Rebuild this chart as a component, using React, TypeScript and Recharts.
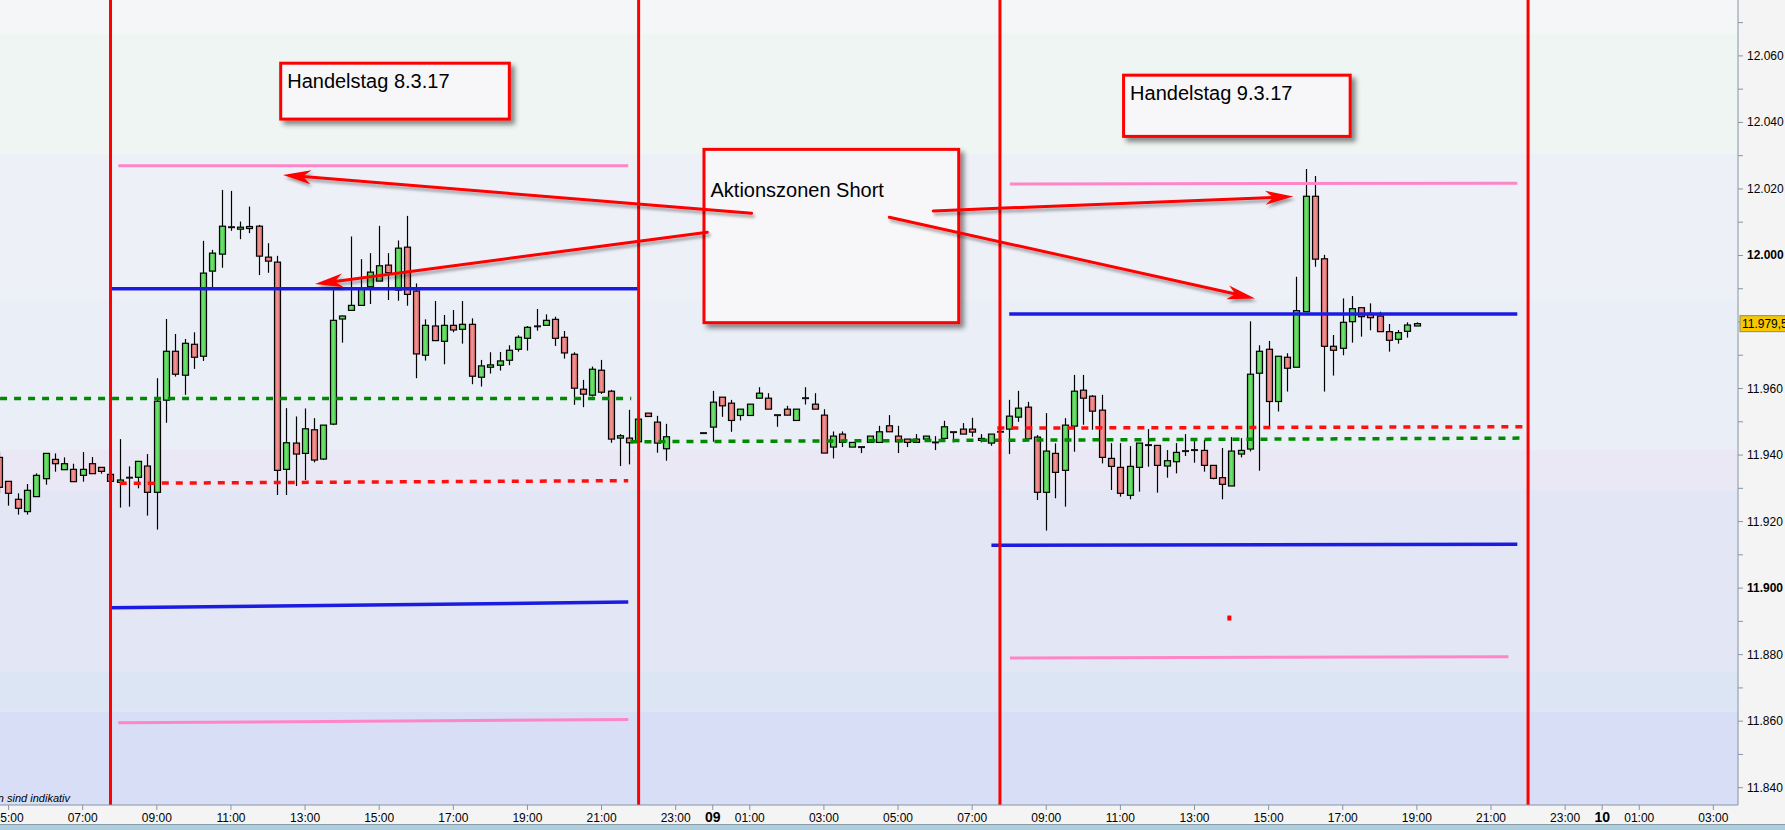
import React from "react";
import {
  ComposedChart,
  Bar,
  XAxis,
  YAxis,
  ReferenceLine,
  ReferenceArea,
  ReferenceDot,
} from "recharts";

// 15-minute DAX candles, time in hours counted from 08.03. 00:00
const SESSIONS = [
  { from: 4.75, to: 22.75 },
  { from: 23.75, to: 43 },
];

const OPEN = [
  11939.3, 11932.1, 11926.7, 11923.0, 11927.5, 11932.9, 11938.7, 11935.6, 11935.7, 11933.9,
  11937.4, 11936.3, 11934.2, 11931.8, 11933.2, 11933.3, 11936.7, 11928.8, 11956.5, 11971.2,
  11964.0, 11973.3, 11969.7, 11995.3, 12000.4, 12008.5, 12007.9, 12008.5, 12008.8, 11999.5,
  11998.0, 11935.7, 11943.6, 11940.5, 11947.6, 11938.8, 11949.3, 11980.9, 11983.5, 11985.0,
  11990.6, 11992.3, 11997.1, 11989.6, 12002.5, 11989.3, 11970.0, 11978.8, 11974.2, 11979.0,
  11977.8, 11979.3, 11963.4, 11966.4, 11967.0, 11968.5, 11971.8, 11975.1, 11978.7, 11979.0,
  11980.8, 11975.4, 11970.3, 11959.8, 11958.0, 11965.5, 11959.2, 11945.1, 11945.1, 11944.0,
  11952.6, 11949.9, 11941.9,
  11946.6, 11948.4, 11957.4, 11955.6, 11951.9, 11951.9, 11957.1, 11957.1, 11952.0, 11953.8,
  11950.4, 11957.1, 11955.3, 11952.0, 11942.4, 11946.3, 11942.4, 11942.4, 11943.8, 11943.8,
  11948.8, 11945.7, 11944.8, 11944.8, 11944.8, 11943.8, 11945.0, 11946.9, 11947.8, 11947.8,
  11945.0, 11943.6, 11947.0, 11947.8, 11951.4, 11954.4, 11945.4, 11928.8, 11940.5, 11935.4,
  11948.7, 11959.5, 11957.7, 11953.5, 11939.0, 11936.3, 11927.9, 11936.3, 11943.0, 11942.9,
  11936.7, 11938.0, 11941.2, 11941.5, 11941.4, 11936.9, 11933.2, 11930.7, 11940.3, 11941.8,
  11964.6, 11971.8, 11956.1, 11969.4, 11966.4, 11983.1, 12017.8, 11999.0, 11972.7, 11972.1,
  11980.1, 11984.3, 11982.6, 11981.8, 11977.1, 11974.8, 11977.2, 11978.8,
];

const HIGH = [
  11941.0, 11932.1, 11928.5, 11931.3, 11934.5, 11940.5, 11940.5, 11939.3, 11937.4, 11940.9,
  11939.4, 11936.3, 11934.2, 11944.8, 11936.6, 11938.1, 11940.3, 11963.1, 11980.9, 11976.4,
  11974.9, 11976.9, 12004.4, 12001.7, 12019.7, 12019.4, 12010.2, 12014.7, 12009.2, 12003.7,
  11999.9, 11954.1, 11951.6, 11954.0, 11951.1, 11949.0, 11989.6, 11982.0, 12005.7, 11998.9,
  12000.7, 12008.9, 12000.7, 12004.5, 12011.9, 11991.6, 11980.8, 11986.3, 11982.1, 11983.6,
  11986.3, 11981.1, 11968.6, 11970.9, 11971.0, 11973.0, 11976.0, 11978.8, 11983.9, 11982.3,
  11981.6, 11977.3, 11970.9, 11962.6, 11966.6, 11968.6, 11959.6, 11946.3, 11953.6, 11951.5,
  11952.6, 11951.8, 11949.4,
  11946.8, 11959.3, 11957.4, 11956.6, 11953.8, 11955.3, 11960.4, 11958.6, 11952.0, 11954.8,
  11953.8, 11960.4, 11958.6, 11953.8, 11947.1, 11947.1, 11943.8, 11942.4, 11945.7, 11948.8,
  11952.0, 11948.8, 11944.8, 11946.3, 11945.7, 11945.7, 11950.3, 11946.9, 11949.6, 11951.2,
  11946.3, 11946.3, 11947.2, 11956.6, 11959.3, 11956.0, 11946.0, 11952.6, 11943.5, 11951.1,
  11964.1, 11964.1, 11958.0, 11958.1, 11943.6, 11943.6, 11942.7, 11943.6, 11947.8, 11942.9,
  11941.5, 11943.6, 11946.3, 11944.6, 11944.6, 11936.9, 11942.1, 11945.4, 11945.1, 11980.2,
  11973.0, 11974.3, 11969.7, 11970.6, 11993.6, 12026.0, 12023.9, 12000.2, 11976.1, 11987.1,
  11987.8, 11984.3, 11985.6, 11983.1, 11979.4, 11977.6, 11979.9, 11979.9,
];

const LOW = [
  11928.5, 11924.8, 11922.1, 11922.1, 11927.5, 11931.1, 11935.0, 11935.6, 11932.0, 11932.0,
  11934.4, 11934.4, 11932.1, 11924.2, 11924.5, 11930.0, 11921.8, 11917.6, 11949.7, 11963.6,
  11958.1, 11965.9, 11968.3, 11990.2, 11996.3, 12007.4, 12004.9, 12006.7, 11994.1, 11994.8,
  11928.0, 11928.0, 11930.7, 11932.5, 11937.8, 11938.5, 11949.0, 11973.8, 11983.5, 11985.0,
  11985.4, 11992.3, 11986.6, 11986.4, 11984.9, 11963.1, 11968.4, 11974.4, 11967.3, 11976.9,
  11973.5, 11961.3, 11960.6, 11964.5, 11965.4, 11967.0, 11971.1, 11971.4, 11977.4, 11979.0,
  11972.8, 11969.0, 11955.1, 11954.4, 11957.6, 11958.4, 11943.7, 11936.7, 11937.2, 11943.5,
  11951.6, 11940.7, 11938.3,
  11946.4, 11944.0, 11951.5, 11947.0, 11950.4, 11951.9, 11957.1, 11953.8, 11948.5, 11952.0,
  11950.4, 11955.2, 11953.8, 11940.6, 11939.0, 11942.4, 11942.4, 11940.6, 11943.8, 11943.8,
  11947.0, 11940.6, 11942.4, 11943.8, 11944.8, 11941.5, 11945.0, 11943.8, 11946.3, 11945.5,
  11943.8, 11942.8, 11946.8, 11940.3, 11950.0, 11944.9, 11926.5, 11917.3, 11927.0, 11924.5,
  11941.0, 11949.1, 11947.6, 11937.5, 11929.5, 11927.5, 11926.7, 11929.0, 11936.5, 11928.7,
  11933.2, 11934.5, 11939.7, 11937.7, 11935.0, 11932.7, 11926.7, 11930.7, 11939.3, 11941.1,
  11935.3, 11948.5, 11953.1, 11959.1, 11966.4, 11983.1, 11996.6, 11959.1, 11963.9, 11970.0,
  11973.8, 11975.6, 11977.5, 11977.1, 11971.1, 11973.5, 11975.3, 11978.8,
];

const CLOSE = [
  11930.3, 11928.5, 11924.0, 11929.4, 11933.9, 11940.5, 11937.4, 11937.4, 11932.0, 11935.7,
  11934.4, 11935.1, 11932.1, 11932.5, 11933.2, 11938.1, 11928.8, 11956.2, 11971.2, 11964.3,
  11973.6, 11969.4, 11994.7, 12000.7, 12008.8, 12008.5, 12008.5, 12008.7, 11999.8, 11998.3,
  11935.4, 11943.7, 11940.3, 11947.9, 11938.5, 11949.0, 11980.5, 11981.8, 11985.0, 11989.9,
  11995.0, 11996.9, 11994.8, 12002.2, 11988.3, 11970.4, 11979.0, 11974.4, 11979.0, 11977.6,
  11979.3, 11963.7, 11966.8, 11967.1, 11968.3, 11971.5, 11975.4, 11978.4, 11978.7, 11980.5,
  11975.1, 11970.7, 11960.1, 11958.3, 11965.8, 11958.9, 11944.8, 11945.8, 11943.7, 11950.8,
  11951.6, 11943.6, 11945.5,
  11946.6, 11955.9, 11954.8, 11950.4, 11953.8, 11955.3, 11958.6, 11953.8, 11952.0, 11952.0,
  11953.8, 11957.1, 11953.8, 11940.6, 11945.7, 11943.8, 11943.8, 11942.4, 11945.7, 11947.0,
  11947.0, 11944.0, 11943.8, 11943.8, 11945.7, 11943.8, 11948.5, 11946.9, 11946.3, 11946.9,
  11944.4, 11946.3, 11947.0, 11951.7, 11954.1, 11944.9, 11928.8, 11941.2, 11934.8, 11949.0,
  11959.2, 11957.1, 11953.2, 11939.3, 11936.6, 11928.5, 11936.6, 11943.6, 11943.0, 11936.9,
  11938.3, 11940.8, 11941.2, 11941.5, 11936.9, 11933.0, 11931.2, 11941.2, 11941.4, 11964.3,
  11971.2, 11956.1, 11969.7, 11966.1, 11983.4, 12017.8, 11998.9, 11972.7, 11971.5, 11979.9,
  11984.0, 11981.6, 11981.3, 11977.1, 11974.5, 11976.8, 11979.1, 11979.5,
];

const TIMES: number[] = [];
SESSIONS.forEach((s) => {
  for (let t = s.from; t <= s.to + 1e-6; t += 0.25) TIMES.push(t);
});

const candles = TIMES.map((t, i) => ({
  t,
  open: OPEN[i],
  high: HIGH[i],
  low: LOW[i],
  close: CLOSE[i],
}));

const LAST_CLOSE = CLOSE[CLOSE.length - 1];

const X_MIN = 4.768;
const X_MAX = 51.665;
const Y_MIN = 11834.8;
const Y_MAX = 12076.8;

const X_TICKS = [5, 7, 9, 11, 13, 15, 17, 19, 21, 23, 24, 25, 27, 29, 31, 33, 35, 37, 39, 41, 43, 45, 47, 48, 49, 51];
const Y_TICKS = [
  11840, 11850, 11860, 11870, 11880, 11890, 11900, 11910, 11920, 11930, 11940, 11950,
  11960, 11970, 11980, 11990, 12000, 12010, 12020, 12030, 12040, 12050, 12060, 12070,
];

// session start/end markers
const SESSION_MARKS = [7.75, 22, 31.75, 46];

// drawn zones: [kind, t1, price1, t2, price2]
const LEVELS: [string, number, number, number, number][] = [
  ["zone", 7.96, 12027.0, 21.72, 12027.0],
  ["level", 7.76, 11990.0, 22.0, 11990.0],
  ["pivot", 4.77, 11957.0, 21.8, 11957.0],
  ["close", 8.0, 11931.5, 21.72, 11932.3],
  ["level", 7.75, 11894.1, 21.72, 11895.8],
  ["zone", 7.96, 11859.5, 21.72, 11860.5],
  ["pivot", 21.78, 11944.0, 45.87, 11945.1],
  ["zone", 32.02, 12021.5, 45.71, 12021.7],
  ["level", 32.0, 11982.4, 45.71, 11982.4],
  ["close", 31.68, 11948.1, 45.87, 11948.5],
  ["level", 31.52, 11912.9, 45.71, 11913.2],
  ["zone", 32.02, 11879.0, 45.47, 11879.4],
];

const LEVEL_STYLE: Record<string, { stroke: string; width: number; dash?: string }> = {
  zone: { stroke: "#ff86c6", width: 3 },
  level: { stroke: "#1c1ce0", width: 3.5 },
  pivot: { stroke: "#008a00", width: 3.5, dash: "7 7" },
  close: { stroke: "#ff1010", width: 3.5, dash: "7 7" },
};

const NOTES = [
  { lines: ["Handelstag 8.3.17"], t1: 12.342, t2: 18.511, p1: 12041.0, p2: 12057.8 },
  { lines: ["Handelstag 9.3.17"], t1: 35.086, t2: 41.2, p1: 12035.8, p2: 12054.2 },
  { lines: ["", "Aktionszonen Short"], t1: 23.764, t2: 30.637, p1: 11979.8, p2: 12031.9 },
];

// [t from, price from, t to, price to]
const ARROWS = [
  [25.05, 12012.7, 12.404, 12024.2],
  [23.853, 12007.0, 13.268, 11991.4],
  [29.951, 12013.4, 39.666, 12017.7],
  [28.764, 12011.5, 38.632, 11987.1],
];

const MARKER = { t: 37.94, price: 11891.0 };

// background shading, top to bottom
const BAND_EDGES = [12076.8, 12066.6, 12030.5, 11986.6, 11941.5, 11929.5, 11874.8, 11862.8, 11834.8];
const BAND_FILLS = ["#f5f6f7", "#eef5f3", "#eef0f8", "#e9eef7", "#ebe8f6", "#e3e6f5", "#dce5f4", "#d7def5"];

const FONT = "'Liberation Sans', Arial, sans-serif";

const fmtPrice = (v: number) => {
  const whole = Math.floor(v);
  const s = `${Math.floor(whole / 1000)}.${String(whole % 1000).padStart(3, "0")}`;
  const frac = Math.round((v - whole) * 10);
  return frac ? `${s},${frac}` : s;
};

const Candle = (props: any) => {
  const { x, y, width, height, payload } = props;
  if (!payload) return null;
  const { open, close, high, low } = payload;
  const top = Math.min(y, y + height);
  const bot = Math.max(y, y + height);
  const k = (bot - top) / (high - low);
  const py = (v: number) => top + (high - v) * k;
  const cx = Math.round(x + width / 2) + 0.5;
  const up = close >= open;
  const bTop = py(Math.max(open, close));
  let bBot = py(Math.min(open, close));
  if (open === close) {
    return (
      <g>
        <line x1={cx} x2={cx} y1={top} y2={bot} stroke="#000" strokeWidth={1.2} />
        <line x1={cx - 3.5} x2={cx + 3.5} y1={bTop} y2={bTop} stroke="#111" strokeWidth={2} />
      </g>
    );
  }
  if (bBot - bTop < 2) bBot = bTop + 2;
  return (
    <g>
      <line x1={cx} x2={cx} y1={top} y2={bot} stroke="#000" strokeWidth={1.2} />
      <rect
        x={cx - 3}
        y={bTop}
        width={6}
        height={bBot - bTop}
        fill={up ? "url(#candleUp)" : "url(#candleDown)"}
        stroke="#000"
        strokeWidth={1.2}
      />
    </g>
  );
};

const YTick = (props: any) => {
  const { x, y, payload } = props;
  const v = payload.value;
  // labels every 20 points; the one under the last-price tag is left out
  if (v % 20 !== 0 || Math.abs(v - LAST_CLOSE) < 8) return null;
  return (
    <text
      x={x + 2}
      y={y + 4}
      fontSize={12}
      fontFamily={FONT}
      fontWeight={v % 100 === 0 ? "bold" : "normal"}
      fill="#000"
      textAnchor="start"
    >
      {fmtPrice(v)}
    </text>
  );
};

const XTick = (props: any) => {
  const { x, y, payload } = props;
  const v = payload.value;
  const isDay = v % 24 === 0;
  const label = isDay
    ? String(8 + v / 24).padStart(2, "0")
    : `${String(v % 24).padStart(2, "0")}:00`;
  return (
    <text
      x={x}
      y={y + 10}
      fontSize={isDay ? 14 : 12}
      fontWeight={isDay ? "bold" : "normal"}
      fontFamily={FONT}
      fill="#000"
      textAnchor="middle"
    >
      {label}
    </text>
  );
};

const NoteBox = (props: any) => {
  const { x, y, width, height, lines } = props;
  return (
    <g>
      <rect
        x={x}
        y={y}
        width={width}
        height={height}
        fill="#f7f7f9"
        stroke="#ff0000"
        strokeWidth={3}
        filter="url(#boxShadow)"
      />
      {lines.map((s: string, i: number) =>
        s ? (
          <text
            key={i}
            x={x + 6.5}
            y={y + 25 + i * 23}
            fontSize={20}
            fontFamily={FONT}
            fill="#000"
          >
            {s}
          </text>
        ) : null,
      )}
    </g>
  );
};

const Arrow = (props: any) => {
  const { x1, y1, x2, y2 } = props;
  const dx = x2 - x1;
  const dy = y2 - y1;
  const len = Math.hypot(dx, dy) || 1;
  const ux = dx / len;
  const uy = dy / len;
  const nx = -uy;
  const ny = ux;
  const hl = 28;
  const hw = 7;
  const notch = 20;
  const pts = [
    [x2, y2],
    [x2 - ux * hl + nx * hw, y2 - uy * hl + ny * hw],
    [x2 - ux * notch, y2 - uy * notch],
    [x2 - ux * hl - nx * hw, y2 - uy * hl - ny * hw],
  ]
    .map((p) => p.join(","))
    .join(" ");
  return (
    <g filter="url(#arrowShadow)">
      <line
        x1={x1}
        y1={y1}
        x2={x2 - ux * notch}
        y2={y2 - uy * notch}
        stroke="#ff0000"
        strokeWidth={3}
        strokeLinecap="round"
      />
      <polygon points={pts} fill="#ff0000" />
    </g>
  );
};

const PriceTag = (props: any) => {
  const { cx, cy } = props;
  return (
    <g>
      <rect x={cx + 2} y={cy - 8} width={60} height={16} fill="#f7c800" stroke="#7d8c99" strokeWidth={1} />
      <text x={cx + 4} y={cy + 4.5} fontSize={12} fontFamily={FONT} fill="#000">
        {fmtPrice(LAST_CLOSE)}
      </text>
    </g>
  );
};

const Marker = (props: any) => {
  const { cx, cy } = props;
  return <rect x={cx - 2} y={cy - 2.5} width={4} height={5} fill="#ff0000" />;
};

export default function App() {
  return (
    <div
      style={{
        position: "absolute",
        left: 0,
        top: 0,
        width: 1785,
        height: 830,
        background: "#f4f4f4",
        overflow: "hidden",
      }}
    >
      <ComposedChart
        width={1785}
        height={830}
        data={candles}
        margin={{ top: 0, right: 0, bottom: 0, left: 0 }}
      >
        <defs>
          <linearGradient id="candleUp" x1="0" y1="0" x2="1" y2="0">
            <stop offset="0%" stopColor="#3fc23f" />
            <stop offset="45%" stopColor="#74e474" />
            <stop offset="100%" stopColor="#3cbc3c" />
          </linearGradient>
          <linearGradient id="candleDown" x1="0" y1="0" x2="1" y2="0">
            <stop offset="0%" stopColor="#dc5c5c" />
            <stop offset="45%" stopColor="#f29a9a" />
            <stop offset="100%" stopColor="#d95a5a" />
          </linearGradient>
          <filter id="boxShadow" x="-10%" y="-10%" width="125%" height="140%">
            <feDropShadow dx="4" dy="4" stdDeviation="2.5" floodColor="#000" floodOpacity="0.45" />
          </filter>
          <filter id="arrowShadow" x="-10%" y="-50%" width="120%" height="200%">
            <feDropShadow dx="2" dy="3" stdDeviation="1.5" floodColor="#000" floodOpacity="0.35" />
          </filter>
        </defs>

        <XAxis
          dataKey="t"
          type="number"
          domain={[X_MIN, X_MAX]}
          allowDataOverflow
          ticks={X_TICKS}
          interval={0}
          height={25}
          tick={<XTick />}
          tickSize={5}
          axisLine={{ stroke: "#8495a6" }}
          tickLine={{ stroke: "#8495a6" }}
        />
        <YAxis
          orientation="right"
          type="number"
          domain={[Y_MIN, Y_MAX]}
          allowDataOverflow
          ticks={Y_TICKS}
          interval={0}
          width={47}
          tick={<YTick />}
          tickSize={5}
          axisLine={{ stroke: "#8495a6" }}
          tickLine={{ stroke: "#8495a6" }}
        />

        {BAND_FILLS.map((fill, i) => (
          <ReferenceArea
            key={`band-${i}`}
            y1={BAND_EDGES[i + 1]}
            y2={BAND_EDGES[i]}
            fill={fill}
            fillOpacity={1}
            stroke="none"
            ifOverflow="hidden"
          />
        ))}

        {NOTES.map((n, i) => (
          <ReferenceArea
            key={`note-${i}`}
            x1={n.t1}
            x2={n.t2}
            y1={n.p1}
            y2={n.p2}
            ifOverflow="visible"
            shape={(p: any) => <NoteBox {...p} lines={n.lines} />}
          />
        ))}

        <Bar
          dataKey={(d: any) => [d.low, d.high]}
          barSize={7}
          shape={<Candle />}
          isAnimationActive={false}
        />

        {LEVELS.map(([kind, t1, p1, t2, p2], i) => {
          const st = LEVEL_STYLE[kind];
          return (
            <ReferenceLine
              key={`lvl-${i}`}
              segment={[
                { x: t1, y: p1 },
                { x: t2, y: p2 },
              ]}
              stroke={st.stroke}
              strokeWidth={st.width}
              strokeDasharray={st.dash}
              ifOverflow="visible"
            />
          );
        })}

        {SESSION_MARKS.map((t) => (
          <ReferenceLine key={`sess-${t}`} x={t} stroke="#ff0000" strokeWidth={3} />
        ))}

        {ARROWS.map(([t1, p1, t2, p2], i) => (
          <ReferenceLine
            key={`arrow-${i}`}
            segment={[
              { x: t1, y: p1 },
              { x: t2, y: p2 },
            ]}
            ifOverflow="visible"
            shape={(p: any) => <Arrow {...p} />}
          />
        ))}

        <ReferenceDot x={MARKER.t} y={MARKER.price} shape={(p: any) => <Marker {...p} />} />
        <ReferenceDot x={X_MAX - 0.001} y={LAST_CLOSE} shape={(p: any) => <PriceTag {...p} />} />
      </ComposedChart>
      <div
        style={{
          position: "absolute",
          left: 0,
          bottom: 0,
          width: 1785,
          height: 5,
          background: "#aecddc",
          borderTop: "1px solid #8a9eaa",
        }}
      />
      <div
        style={{
          position: "absolute",
          left: -40,
          top: 792,
          width: 110,
          textAlign: "right",
          fontFamily: FONT,
          fontStyle: "italic",
          fontSize: 11,
          color: "#000",
          whiteSpace: "nowrap",
        }}
      >
        Daten sind indikativ
      </div>
    </div>
  );
}
